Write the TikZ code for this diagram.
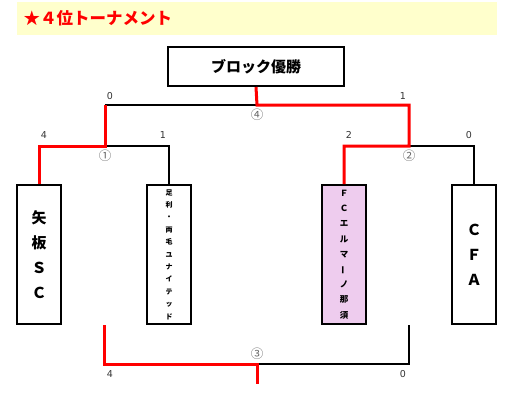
\documentclass[tikz,border=0pt]{standalone}
\usepackage{fontspec}
\setmainfont{Noto Sans CJK JP}
\newfontfamily\numfont{DejaVu Sans}
\usepackage{xcolor}
\definecolor{bandyellow}{RGB}{255,255,204}
\definecolor{elpink}{RGB}{238,204,238}
\usetikzlibrary{positioning}

\begin{document}
\begin{tikzpicture}[x=1pt, y=-1pt,
  teambox/.style={draw, line width=2pt, minimum width=44pt, minimum height=139pt,
                  inner sep=0pt, align=center},
  winline/.style={red, line width=3pt},
  loseline/.style={black, line width=2pt},
  score/.style={text=black!80, font=\numfont\fontsize{9.5}{10}\selectfont},
  gameno/.style={text=black!60, font=\fontsize{12.5}{12.5}\selectfont}]
  \useasboundingbox (0,0) rectangle (515,402);

  % Titre
  \fill[bandyellow] (17,2) rectangle (497,35);
  \node[anchor=west, text=red, font=\bfseries\fontsize{16.5}{17}\selectfont]
      (title) at (20,18) {★４位トーナメント};

  % Vainqueur du bloc
  \node[draw, line width=2pt, minimum width=176pt, minimum height=39pt,
        font=\bfseries\fontsize{15}{16}\selectfont] (champ) at (256,66.5) {ブロック優勝};

  % Equipes
  \node[teambox, font=\bfseries\fontsize{15}{25}\selectfont] (t1) at (39,254.5)
      {矢\\板\\Ｓ\\Ｃ};
  \node[teambox, font=\bfseries\fontsize{7}{12.4}\selectfont] (t2) at (169,254.5)
      {足\\利\\・\\両\\毛\\ユ\\ナ\\イ\\テ\\ッ\\ド};
  \node[teambox, fill=elpink, font=\bfseries\fontsize{8.5}{15.2}\selectfont] (t3) at (344,254.5)
      {Ｆ\\Ｃ\\エ\\ル\\マ\\\rotatebox[origin=c]{90}{ー}\\ノ\\那\\須};
  \node[teambox, font=\bfseries\fontsize{15}{25}\selectfont] (t4) at (474,254.5)
      {Ｃ\\Ｆ\\Ａ};

  % Points de jonction
  \coordinate (m1) at (105,146);
  \coordinate (m2) at (409,146);
  \coordinate (m4) at (257,105);
  \coordinate (m3) at (257,364);
  \coordinate (l3) at (104,325);
  \coordinate (r3) at (409,325);
  \coordinate (b3) at (257,384);

  % Traits perdants
  \draw[loseline] (m1) -| (t2.north);
  \draw[loseline] (m2) -| (t4.north);
  \draw[loseline] (m1 |- m4) -- (m4);
  \draw[loseline] (m3) -| (r3);

  % Traits gagnants
  \draw[winline] (t1.north) |- (m1) -- (m1 |- m4);
  \draw[winline] (t3.north) |- (m2) -- (m2 |- m4) -- (m4) -- (champ.south);
  \draw[winline] (l3) |- (m3) -- (b3);

  % Scores
  \node[score] (s1) at (110,96) {0};
  \node[score] (s2) at (403,96) {1};
  \node[score] (s3) at (44,135) {4};
  \node[score] (s4) at (163,135) {1};
  \node[score] (s5) at (349,135) {2};
  \node[score] (s6) at (469,135) {0};
  \node[score] (s7) at (110,374) {4};
  \node[score] (s8) at (403,374) {0};

  % Numeros de match
  \node[gameno] (g1) at (105,156) {①};
  \node[gameno] (g2) at (409,156) {②};
  \node[gameno] (g3) at (257,354) {③};
  \node[gameno] (g4) at (257,115) {④};
\end{tikzpicture}
\end{document}
